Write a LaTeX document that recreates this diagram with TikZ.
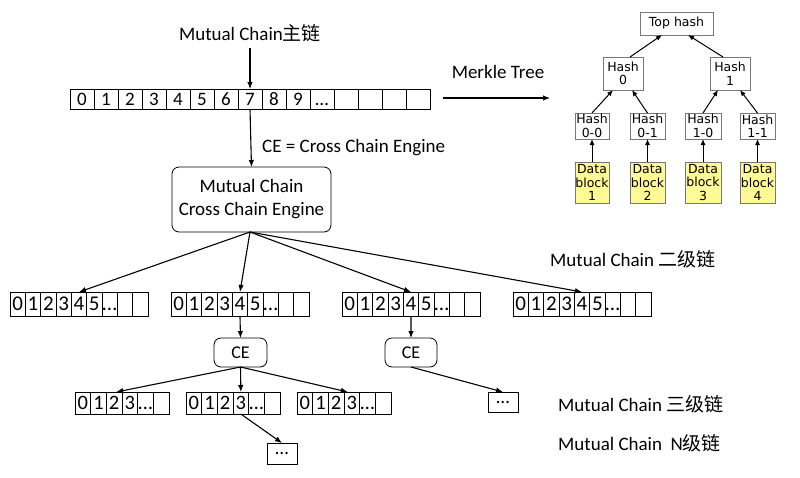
\documentclass[tikz,border=0pt]{standalone}
\usepackage{fontspec}
\setmainfont{Carlito}
\newfontfamily\cjk{Noto Sans CJK SC}
\newfontfamily\mkfont{DejaVu Sans}
\usetikzlibrary{arrows.meta}
\definecolor{datayellow}{RGB}{255,250,150}
\definecolor{mkgray}{RGB}{120,120,120}
\begin{document}
\begin{tikzpicture}[x=1pt,y=-1pt,
  txt/.style={font=\fontsize{19}{21}\selectfont, inner sep=0pt},
  cellA/.style={draw, line width=0.8pt, inner sep=0pt, outer sep=0pt, minimum width=24pt, minimum height=20pt, text height=12pt, text depth=0pt, font=\fontsize{19}{19}\selectfont},
  cellB/.style={draw, line width=0.8pt, inner sep=0pt, outer sep=0pt, minimum width=15.33pt, minimum height=24pt, text height=13.5pt, text depth=0pt, font=\fontsize{21}{21}\selectfont},
  cellC/.style={draw, line width=0.8pt, inner sep=0pt, outer sep=0pt, minimum width=15.67pt, minimum height=22pt, text height=13pt, text depth=0pt, font=\fontsize{20.5}{20.5}\selectfont},
  rbox/.style={draw, line width=0.8pt, rounded corners=7pt, align=center, inner sep=0pt, outer sep=0pt},
  dotbox/.style={draw, line width=0.8pt, inner sep=0pt, outer sep=0pt, minimum width=30pt, font=\fontsize{19}{19}\selectfont},
  arr/.style={-{Latex[length=7pt,width=5.5pt]}, line width=1.1pt},
  mkbox/.style={draw=mkgray, line width=0.8pt, inner sep=0pt, outer sep=0pt, align=center, font=\mkfont\fontsize{12.5}{13.5}\selectfont},
  mkdata/.style={mkbox, fill=datayellow},
  mkarr/.style={-{Latex[length=6pt,width=5pt]}, line width=1pt}
]
\useasboundingbox (0,0) rectangle (800,477);

% main chain
\foreach \i/\t in {0/0,1/1,2/2,3/3,4/4,5/5,6/6,7/7,8/8,9/9,10/…,11/,12/,13/,14/}
  \node[cellA] (m\i) at ({82+24*\i},99) {\t};

\node[txt] (mainlbl) at (250,33) {Mutual Chain{\cjk 主链}};
\path (mainlbl.south) ++(0,6) coordinate (mainA);
\draw[arr] (mainA) -- (m7.north);

\node[txt, anchor=west] (celbl) at (262,148) {CE = Cross Chain Engine};
\node[txt] (mtlbl) at (498,72) {Merkle Tree};
\coordinate (mtA) at (443,98);
\coordinate (mtB) at (550,98);
\draw[arr] (mtA) -- (mtB);

% cross chain engine
\node[rbox, minimum width=159pt, minimum height=65pt, font=\fontsize{19}{23}\selectfont] (cce) at (251.5,199.5) {Mutual Chain\\Cross Chain Engine};
\draw[arr] (m7.south) -- (cce.north);

% second-level chains
\foreach \c/\sx in {1/10,2/171,3/342,4/513}
  \foreach \i/\t in {0/0,1/1,2/2,3/3,4/4,5/5,6/…,7/,8/}
    \node[cellB] (s\c c\i) at ({\sx+15.33*(\i+0.5)},304) {\t};

\coordinate (cceS) at (250,232);
\foreach \c in {1,2,3,4}
  \draw[arr] (cceS) -- (s\c c4.north);

\node[txt, anchor=west] (lbl2) at (550,259) {Mutual Chain {\cjk 二级链}};

% CE boxes
\node[rbox, minimum width=53pt, minimum height=29pt, font=\fontsize{18}{18}\selectfont] (ce1) at (240.5,352.5) {CE};
\node[rbox, minimum width=52pt, minimum height=29pt, font=\fontsize{18}{18}\selectfont] (ce2) at (411,352.5) {CE};
\draw[arr] (s2c4.south) -- (ce1.north);
\draw[arr] (s3c4.south) -- (ce2.north);

% third-level chains
\foreach \c/\sx in {a/75,b/186,c/297}
  \foreach \i/\t in {0/0,1/1,2/2,3/3,4/…,5/}
    \node[cellC] (t\c\i) at ({\sx+15.67*(\i+0.5)},403) {\t};

\draw[arr] (ce1.south) -- ([xshift=2pt]ta2.north);
\draw[arr] (ce1.south) -- (tb3.north);
\draw[arr] (ce1.south) -- ([xshift=-4pt]tc3.north);

\node[dotbox, minimum height=20pt] (dots2) at (503,402) {…};
\draw[arr] (ce2.south) -- (dots2.north);

\node[dotbox, minimum height=21pt] (dots1) at (282,453.5) {…};
\draw[arr] (tb3.south) -- (dots1.north);

\node[txt, anchor=west] (lbl3) at (558,404) {Mutual Chain {\cjk 三级链}};
\node[txt, anchor=west] (lblN) at (558,443) {Mutual Chain\ \ N{\cjk 级链}};

% Merkle tree
\node[mkbox, minimum width=73pt, minimum height=23pt] (top) at (676.5,23.5) {Top hash};
\node[mkbox, minimum width=40pt, minimum height=33pt] (h0) at (623,73.5) {Hash\\0};
\node[mkbox, minimum width=40pt, minimum height=33pt] (h1) at (730,73.5) {Hash\\1};
\node[mkbox, minimum width=34pt, minimum height=26pt] (h00) at (592,126) {Hash\\0-0};
\node[mkbox, minimum width=35pt, minimum height=26pt] (h01) at (647.5,126) {Hash\\0-1};
\node[mkbox, minimum width=36pt, minimum height=26pt] (h10) at (703,126) {Hash\\1-0};
\node[mkbox, minimum width=35pt, minimum height=26pt] (h11) at (757.5,126) {Hash\\1-1};
\node[mkdata, minimum width=34pt, minimum height=41pt] (d1) at (592,182.5) {Data\\block\\1};
\node[mkdata, minimum width=35pt, minimum height=41pt] (d2) at (647.5,182.5) {Data\\block\\2};
\node[mkdata, minimum width=36pt, minimum height=41pt] (d3) at (703,182.5) {Data\\block\\3};
\node[mkdata, minimum width=35pt, minimum height=41pt] (d4) at (757.5,182.5) {Data\\block\\4};

\draw[mkarr] (d1.north) -- (h00.south);
\draw[mkarr] (d2.north) -- (h01.south);
\draw[mkarr] (d3.north) -- (h10.south);
\draw[mkarr] (d4.north) -- (h11.south);
\draw[mkarr] (h00.north) -- ([xshift=-10pt]h0.south);
\draw[mkarr] (h01.north) -- ([xshift=9pt]h0.south);
\draw[mkarr] (h10.north) -- ([xshift=-12pt]h1.south);
\draw[mkarr] (h11.north) -- ([xshift=10pt]h1.south);
\draw[mkarr] ([xshift=7pt]h0.north) -- ([xshift=-14.5pt]top.south);
\draw[mkarr] ([xshift=-7pt]h1.north) -- ([xshift=11.5pt]top.south);
\end{tikzpicture}
\end{document}
